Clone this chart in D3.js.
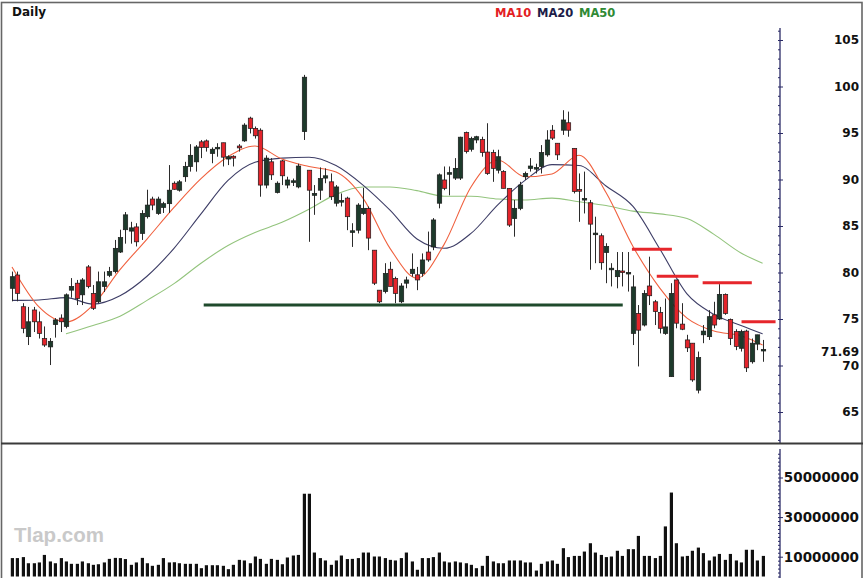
<!DOCTYPE html>
<html><head><meta charset="utf-8">
<script src="https://cdn.jsdelivr.net/npm/d3@7"></script>
<style>body{margin:0;background:#fff}svg{display:block}</style>
</head><body><svg id="c" width="864" height="578"></svg>
<script>
// ---------------- DATA ----------------
const opens=[78.3,79.73,76.32,73.1,75.97,74.7,72.9,72.0,74.4,75.1,
74.2,78.1,78.85,77.6,80.6,77.75,76.85,78.5,79.7,80.1,
82.2,84.6,84.45,84.9,84.2,86.0,87.9,86.35,87.0,87.4,
89.6,88.85,90.3,91.4,91.9,94.05,94.15,92.8,93.35,93.95,
92.2,92.5,93.6,94.15,96.6,95.5,95.3,89.4,91.9,88.6,
92.0,89.4,89.75,89.2,95.15,91.0,88.3,88.85,90.15,89.75,
87.45,87.6,88.0,84.35,84.55,86.35,86.9,82.4,78.1,77.95,
80.35,79.35,76.85,78.85,79.9,79.75,79.9,82.2,82.75,87.45,
89.95,90.6,90.15,90.15,95.05,93.25,94.25,94.3,92.95,92.9,
91.0,90.85,89.05,85.8,86.9,90.3,91.2,91.15,91.4,92.65,
95.3,93.9,95.3,96.1,93.35,88.85,87.85,87.5,84.1,83.95,
82.15,80.35,79.55,80.1,79.9,73.45,75.6,74.35,78.55,76.85,
75.7,73.45,68.8,79.2,74.45,72.75,72.4,67.35,73.3,73.1,
75.45,75.0,77.65,74.95,73.65,71.85,73.7,70.4,72.3,71.6];
const highs=[80.1,80.1,76.7,76.3,76.3,75.8,74.2,72.95,75.1,75.5,
77.75,79.4,79.2,79.4,80.8,78.65,80.1,80.1,80.6,83.5,
84.6,86.5,85.45,85.3,86.7,88.9,88.15,88.15,87.6,91.55,
89.8,89.95,91.9,93.8,93.7,94.25,94.3,93.45,93.9,93.95,
92.6,92.6,93.8,96.05,96.75,95.7,95.5,92.6,92.3,89.8,
92.1,90.3,90.1,91.7,101.25,91.0,89.4,91.3,91.2,90.65,
89.4,88.5,88.15,85.3,87.45,89.1,87.1,82.4,78.1,81.0,
81.15,79.55,78.85,79.55,82.05,80.6,82.05,84.4,85.85,90.65,
91.4,91.4,92.3,94.6,95.15,94.6,94.7,94.6,96.05,93.2,
93.2,91.0,89.05,87.8,89.75,90.85,92.3,91.7,93.7,95.3,
95.85,93.9,97.45,97.3,93.35,90.65,90.85,87.8,86.0,84.2,
83.15,81.0,82.2,82.2,82.2,79.7,76.5,78.1,81.7,77.05,
76.3,77.2,78.85,79.2,76.7,73.3,72.4,71.5,74.35,75.95,
76.85,78.75,77.75,75.05,73.9,73.85,73.85,72.9,73.3,72.75];
const lows=[76.9,76.9,73.47,72.2,73.6,72.9,72.0,70.05,73.0,73.6,
74.0,77.3,76.5,76.5,78.3,75.97,76.7,77.9,79.5,79.9,
82.1,83.1,83.1,82.8,83.5,85.8,86.7,86.2,86.4,86.4,
88.9,88.7,89.75,90.85,90.85,92.3,93.0,91.75,92.45,91.4,
91.55,91.4,93.0,94.05,94.95,94.4,88.15,89.05,89.95,88.5,
89.4,89.05,89.3,89.05,94.25,83.3,86.2,87.8,89.6,87.8,
87.1,87.1,84.55,82.75,84.2,86.2,82.4,78.65,76.7,77.75,
78.5,76.7,76.7,78.3,79.55,78.1,79.55,81.15,82.4,86.9,
88.85,88.3,89.95,89.95,92.8,93.0,93.9,92.45,90.5,89.75,
90.65,89.05,84.9,83.85,86.7,89.95,90.85,90.65,90.65,92.45,
94.25,92.1,94.8,94.6,88.5,85.45,86.35,80.3,81.0,80.3,
78.85,78.5,78.3,78.5,77.95,72.2,69.9,74.2,76.5,74.35,
73.45,73.3,68.8,74.0,73.8,71.45,68.25,67.0,72.4,72.75,
74.0,74.9,75.45,72.2,71.65,71.5,69.3,70.2,71.65,70.4];
const closes=[79.55,77.76,74.0,74.7,74.7,73.45,72.2,72.6,74.9,74.7,
77.6,78.5,77.2,79.2,78.5,76.15,79.0,79.0,80.1,82.6,
83.75,86.2,84.8,83.3,86.35,87.25,87.25,87.9,87.4,88.85,
88.95,89.75,91.4,92.6,93.5,93.45,93.45,93.25,93.4,92.4,
92.45,92.3,93.4,95.85,95.5,94.7,89.4,92.3,90.5,89.6,
90.4,89.95,89.8,91.45,101.0,88.85,88.5,90.1,90.4,88.15,
89.2,87.7,86.0,84.45,87.25,86.9,83.7,78.85,76.85,79.9,
78.5,77.75,78.55,79.2,80.35,79.2,81.35,81.35,85.65,90.5,
89.05,90.7,91.2,94.55,93.0,94.4,94.6,92.9,90.65,91.2,
92.45,89.05,85.1,86.9,89.4,90.65,91.45,91.25,92.9,94.25,
94.45,92.65,96.4,95.3,88.7,88.8,87.9,85.2,84.2,81.05,
82.8,80.4,80.2,80.05,79.95,78.45,73.8,77.75,77.5,75.8,
74.0,74.15,77.75,74.55,73.9,71.9,68.45,70.85,73.7,75.25,
74.35,77.65,75.6,72.9,72.05,73.65,69.75,72.4,73.3,71.69];
// volume in millions of shares
const volumesM=[9.3,9.3,9.8,6.7,6.7,7.1,10.9,7.6,6.7,9.3,
7.6,6.4,6.4,7.6,6.7,5.9,6.2,7.1,8.9,9.4,
9.3,8.8,5.9,7.1,9.4,6.7,5.4,5.9,9.3,7.1,
7.2,6.7,6.4,6.4,6.4,4.2,5.7,5.7,5.7,5.4,
3.7,5.9,8.4,8.1,6.7,10.1,8.9,6.4,8.9,8.4,
6.2,9.6,10.6,10.9,41.8,41.8,12.1,9.3,8.1,5.9,
8.1,10.6,8.8,8.9,9.3,12.1,12.1,10.1,10.1,9.3,
8.4,8.1,9.3,12.1,7.6,3.4,9.3,9.3,9.8,12.1,
7.6,7.1,7.6,7.1,6.7,5.9,4.2,5.4,10.4,7.6,
6.7,6.7,8.1,8.1,8.1,7.1,7.1,3.0,6.4,7.6,
8.1,6.4,14.3,9.8,10.4,10.4,12.6,16.8,12.1,10.9,
9.8,10.1,13.0,10.4,13.8,13.8,20.5,10.4,10.4,9.3,
10.4,25.3,42.4,16.8,10.1,10.4,13.0,14.6,11.8,8.1,
10.1,11.4,8.4,11.4,8.1,7.1,13.5,13.5,8.1,10.4];
// moving averages at these bar indices
const maIdx=[0,5,10,15,20,25,30,35,40,45,50,55,60,65,70,75,80,85,90,95,100,105,110,115,120,125,130,135,139];
const ma10=[80.6,76.3,74.7,76.5,80.3,83.6,87.0,90.1,92.45,93.6,92.2,91.4,90.8,88.0,82.6,79.4,83.0,89.2,92.1,90.3,90.6,92.6,88.6,82.8,78.3,75.1,73.7,73.2,72.2];
const ma20=[77.0,77.05,77.3,76.6,77.5,79.6,82.6,86.3,89.9,91.85,92.3,92.4,91.5,89.4,86.7,83.6,82.6,84.2,87.3,89.9,91.6,91.5,89.3,87.1,82.5,77.7,75.5,74.3,73.4];
const ma50=[null,null,73.4,74.3,75.3,77.0,78.8,81.0,82.9,84.3,85.4,86.8,88.4,89.2,89.2,88.8,88.2,88.2,87.9,87.8,88.0,87.6,87.2,86.6,86.3,85.8,84.1,82.1,81.0];
const priceTicks=[65,70,75,80,85,90,95,100,105];
const volTicks=[10000000,30000000,50000000];
const lastCloseLabel="71.69";
// drawn lines: [level, fromBar, toBar]
const supportLevel=[76.5,35.5,113.1];
const resistanceLevels=[[82.5,114.8,122.2],[79.6,119.4,127.1],[78.9,127.9,137.0],[74.7,135.1,141.4]];
const legendNames=["MA10","MA20","MA50"];

// ---------------- DRAW ----------------
const svg=d3.select("#c");
const FONT="'DejaVu Sans', Arial, sans-serif";
svg.append("rect").attr("width",864).attr("height",578).attr("fill","#fff");

const N=closes.length;
const x=d3.scaleLinear().domain([0,N-1]).range([12,762.6]);
const y=d3.scaleLinear().domain([65,105]).range([412,40]);
const yv=d3.scaleLinear().domain([0,50]).range([576.5,477.5]);

// watermark
svg.append("text").attr("x",14).attr("y",542).text("Tlap.com")
  .attr("font-family","'Liberation Sans', Arial, sans-serif").attr("font-weight","bold")
  .attr("font-size",20.5).attr("fill","#c9c9c9");

// clip for price panel
svg.append("clipPath").attr("id","pc").append("rect").attr("x",3).attr("y",4).attr("width",776).attr("height",438);
const gp=svg.append("g").attr("clip-path","url(#pc)");

// support line
gp.append("line").attr("x1",x(supportLevel[1])).attr("x2",x(supportLevel[2]))
  .attr("y1",y(supportLevel[0])).attr("y2",y(supportLevel[0]))
  .attr("stroke","#1f4a2c").attr("stroke-width",3);

// MA lines
const maDefs=[[ma50,"#93c47d"],[ma20,"#3d3d66"],[ma10,"#f0603e"]];
maDefs.forEach(([arr,col])=>{
  const pts=maIdx.map((k,i)=>[k,arr[i]]).filter(p=>p[1]!=null);
  gp.append("path").datum(pts)
    .attr("d",d3.line().x(p=>x(p[0])).y(p=>y(p[1])).curve(d3.curveMonotoneX))
    .attr("fill","none").attr("stroke",col).attr("stroke-width",1.1);
});

// candles
const bw=4.4;
const cg=gp.append("g");
d3.range(N).forEach(i=>{
  const up=closes[i]>=opens[i];
  const cx=Math.round(x(i))+0.5;
  cg.append("line").attr("x1",cx).attr("x2",cx).attr("y1",y(highs[i])).attr("y2",y(lows[i]))
    .attr("stroke","#2b2b2b").attr("stroke-width",1);
  const top=y(Math.max(opens[i],closes[i])), bot=y(Math.min(opens[i],closes[i]));
  const h=Math.max(1.6,bot-top);
  cg.append("rect").attr("x",cx-bw/2).attr("y",bot-top<1.6?(top+bot)/2-0.8:top)
    .attr("width",bw).attr("height",h)
    .attr("fill",up?"#1d3a2b":"#e4242b").attr("stroke","#1b1b1b").attr("stroke-width",0.7);
});

// resistance lines
resistanceLevels.forEach(r=>{
  gp.append("line").attr("x1",x(r[1])).attr("x2",x(r[2])).attr("y1",y(r[0])).attr("y2",y(r[0]))
    .attr("stroke","#e6262b").attr("stroke-width",3);
});

// volume bars
svg.append("g").selectAll("rect").data(volumesM).join("rect")
  .attr("x",(d,i)=>Math.round(x(i))-1.2).attr("width",3.2)
  .attr("y",d=>yv(d)).attr("height",d=>yv(0)-yv(d)).attr("fill","#111");

// price axis
const axX=780;
const pa=svg.append("g").attr("transform",`translate(${axX},0)`);
pa.append("line").attr("x1",0).attr("x2",0).attr("y1",28).attr("y2",443).attr("stroke","#2a2a66").attr("stroke-width",1.3);
pa.call(g=>g.append("g").call(d3.axisLeft(y).tickValues(d3.range(62,107)).tickSize(2).tickFormat(""))
  .call(a=>a.select(".domain").remove()).selectAll("line").attr("stroke","#2a2a66"));
pa.call(g=>g.append("g").call(d3.axisRight(y).tickValues(priceTicks).tickSize(3).tickFormat(""))
  .call(a=>a.select(".domain").remove()).selectAll("line").attr("stroke","#2a2a66"));
svg.append("g").selectAll("text").data(priceTicks).join("text")
  .attr("x",859).attr("y",d=>y(d)).attr("dy","0.36em").attr("text-anchor","end")
  .attr("font-family",FONT).attr("font-weight","bold").attr("font-size",12).attr("fill","#111")
  .text(d=>d);
svg.append("text").attr("x",859).attr("y",y(closes[N-1])+2).attr("dy","0.36em").attr("text-anchor","end")
  .attr("font-family",FONT).attr("font-weight","bold").attr("font-size",12).attr("fill","#111")
  .text(lastCloseLabel);

// volume axis
const va=svg.append("g").attr("transform",`translate(${axX},0)`);
va.append("line").attr("x1",0).attr("x2",0).attr("y1",449).attr("y2",578).attr("stroke","#2a2a66").attr("stroke-width",1.3);
va.call(g=>g.append("g").call(d3.axisLeft(yv).tickValues(d3.range(0,64,2)).tickSize(2).tickFormat(""))
  .call(a=>a.select(".domain").remove()).selectAll("line").attr("stroke","#2a2a66"));
va.call(g=>g.append("g").call(d3.axisRight(yv).tickValues(volTicks.map(v=>v/1e6)).tickSize(3).tickFormat(""))
  .call(a=>a.select(".domain").remove()).selectAll("line").attr("stroke","#2a2a66"));
svg.append("g").selectAll("text").data(volTicks).join("text")
  .attr("x",859).attr("y",d=>yv(d/1e6)).attr("dy","0.36em").attr("text-anchor","end")
  .attr("font-family",FONT).attr("font-weight","bold").attr("font-size",13.5).attr("fill","#111")
  .text(d=>d);

// title and legend
svg.append("text").attr("x",12).attr("y",16).text("Daily")
  .attr("font-family",FONT).attr("font-weight","bold").attr("font-size",12).attr("fill","#111");
const legCols=["#e3201f","#1c1c48","#2f8a35"];
const legX=[495,537,579];
legendNames.forEach((n,i)=>svg.append("text").attr("x",legX[i]).attr("y",16.5).text(n)
  .attr("font-family",FONT).attr("font-weight","bold").attr("font-size",11.5).attr("fill",legCols[i]));

// frame and panel divider
svg.append("rect").attr("x",1.5).attr("y",2.5).attr("width",860.5).attr("height",580)
  .attr("fill","none").attr("stroke","#666").attr("stroke-width",1.6);
svg.append("line").attr("x1",1).attr("x2",863).attr("y1",443.5).attr("y2",443.5).attr("stroke","#3a3a3a").attr("stroke-width",2.2);
</script></body></html>
